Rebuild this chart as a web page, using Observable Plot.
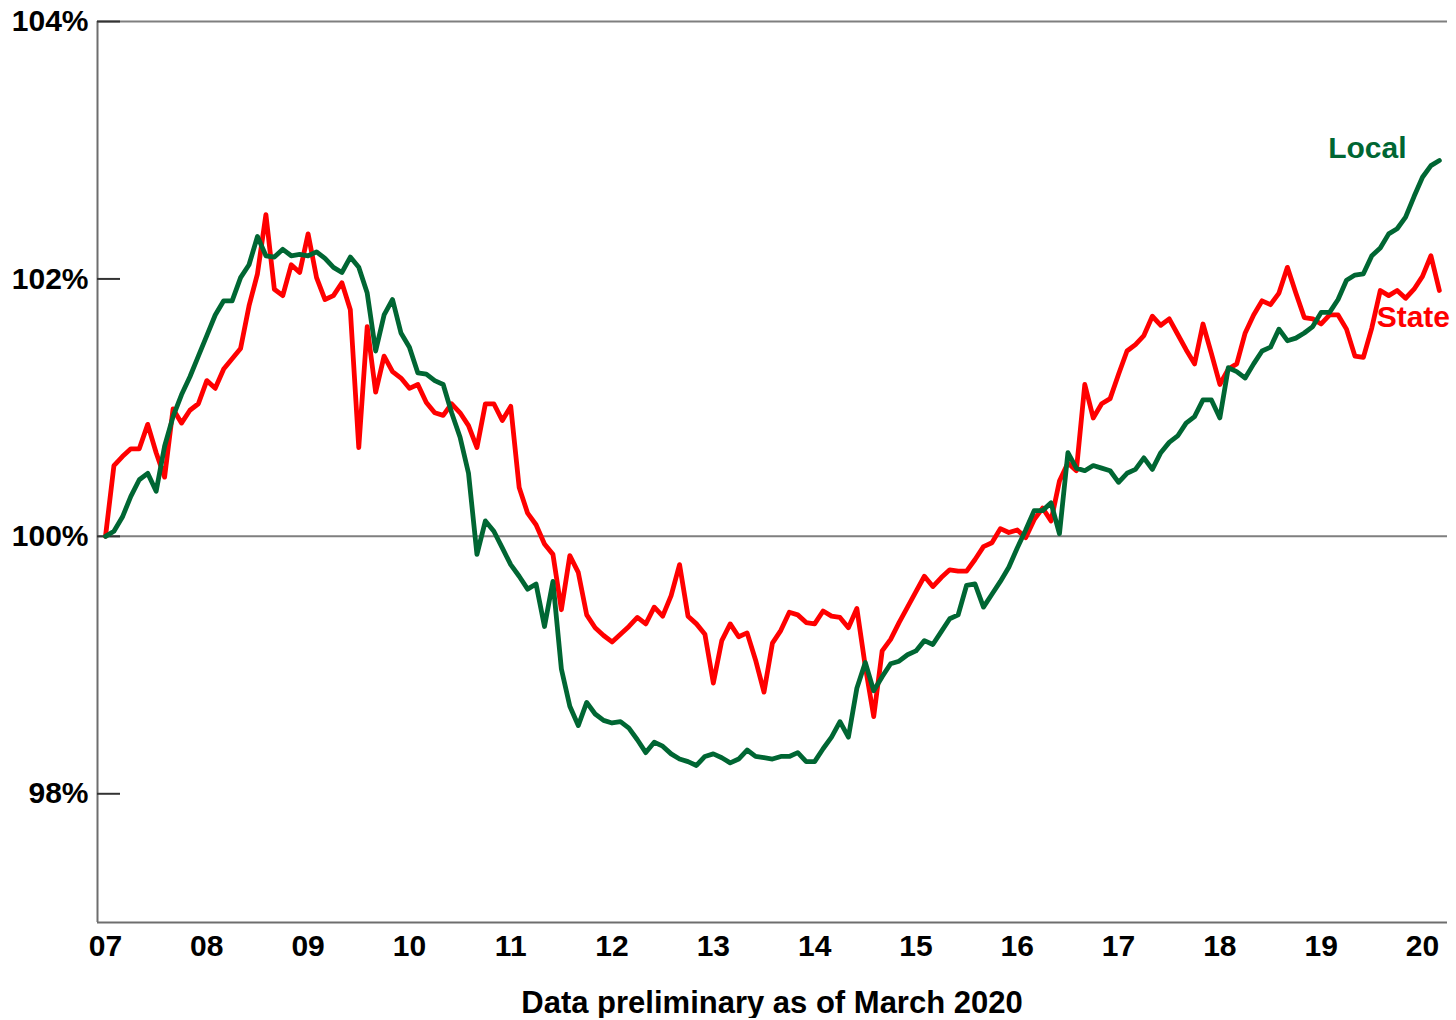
<!DOCTYPE html>
<html>
<head>
<meta charset="utf-8">
<script src="https://cdn.jsdelivr.net/npm/d3@7"></script>
<script src="https://cdn.jsdelivr.net/npm/@observablehq/plot@0.6"></script>
<style>
  html, body { margin: 0; padding: 0; background: #fff; }
  #chart { width: 1456px; }
  .caption {
    font-family: "Liberation Sans", Arial, sans-serif;
    font-weight: bold; font-size: 31px; line-height: 31px;
    text-align: center; color: #000;
    padding-left: 97px; padding-right: 9px; margin-top: 17px;
    box-sizing: border-box; width: 1456px;
  }
</style>
</head>
<body>
<div id="chart"></div>
<div class="caption" id="caption"></div>
<script>
// ---- Data (monthly, Jan 2007 – Mar 2020), index of employment, Jan 2007 = 100% ----
const startYear = 2007;
const seriesNames = ["State", "Local"];
const stateValues = [
  100.00,100.55,100.62,100.68,100.68,100.87,100.65,100.46,100.99,100.88,100.98,101.03,
  101.21,101.15,101.30,101.38,101.46,101.79,102.04,102.50,101.92,101.87,102.11,102.05,
  102.35,102.01,101.84,101.87,101.97,101.76,100.69,101.63,101.12,101.40,101.28,101.23,
  101.15,101.18,101.04,100.96,100.94,101.03,100.96,100.86,100.69,101.03,101.03,100.90,
  101.01,100.38,100.18,100.09,99.94,99.86,99.43,99.85,99.72,99.39,99.29,99.23,
  99.18,99.24,99.30,99.37,99.32,99.45,99.38,99.54,99.78,99.38,99.32,99.24,
  98.86,99.19,99.32,99.22,99.25,99.04,98.79,99.17,99.27,99.41,99.39,99.33,
  99.32,99.42,99.38,99.37,99.29,99.44,98.99,98.60,99.11,99.20,99.33,99.45,
  99.57,99.69,99.61,99.68,99.74,99.73,99.73,99.82,99.92,99.95,100.06,100.03,
  100.05,99.99,100.13,100.22,100.12,100.43,100.57,100.51,101.18,100.92,101.03,101.07,
  101.26,101.44,101.49,101.56,101.71,101.64,101.69,101.57,101.45,101.34,101.65,101.42,
  101.18,101.30,101.34,101.58,101.72,101.83,101.80,101.89,102.09,101.89,101.70,101.69,
  101.65,101.72,101.72,101.61,101.40,101.39,101.62,101.91,101.87,101.91,101.85,101.92,
  102.02,102.18,101.91
];
const localValues = [
  100.00,100.04,100.15,100.31,100.44,100.49,100.35,100.70,100.93,101.10,101.24,101.40,
  101.56,101.72,101.83,101.83,102.01,102.11,102.33,102.18,102.17,102.23,102.18,102.19,
  102.18,102.21,102.16,102.09,102.05,102.17,102.09,101.89,101.44,101.72,101.84,101.58,
  101.47,101.27,101.26,101.21,101.18,100.96,100.77,100.49,99.86,100.12,100.04,99.91,
  99.78,99.69,99.59,99.63,99.30,99.65,98.97,98.68,98.53,98.71,98.62,98.57,
  98.55,98.56,98.51,98.42,98.32,98.40,98.37,98.31,98.27,98.25,98.22,98.29,
  98.31,98.28,98.24,98.27,98.34,98.29,98.28,98.27,98.29,98.29,98.32,98.25,
  98.25,98.35,98.44,98.56,98.44,98.82,99.02,98.80,98.91,99.01,99.03,99.08,
  99.11,99.19,99.16,99.26,99.36,99.39,99.62,99.63,99.45,99.55,99.65,99.76,
  99.91,100.05,100.20,100.20,100.26,100.02,100.65,100.53,100.51,100.55,100.53,100.51,
  100.42,100.49,100.52,100.61,100.52,100.65,100.73,100.78,100.88,100.93,101.06,101.06,
  100.92,101.31,101.28,101.23,101.34,101.44,101.47,101.61,101.52,101.54,101.58,101.63,
  101.74,101.74,101.84,101.99,102.03,102.04,102.18,102.24,102.35,102.39,102.48,102.64,
  102.79,102.88,102.92
];
const yearTicks = [2007,2008,2009,2010,2011,2012,2013,2014,2015,2016,2017,2018,2019,2020];
const yTickValues = [98, 100, 102, 104];
const referenceLines = [100, 104];
const yDomain = [97, 104];
const xDomain = [2006.921, 2020.247];
const captionText = "Data preliminary as of March 2020";

// ---- Styles ----
const colors = {State: "#ff0000", Local: "#006633"};
const FONT = "'Liberation Sans', Arial, Helvetica, sans-serif";

const toRows = (name, vals) => vals.map((v, i) => ({series: name, t: startYear + i / 12, v}));
const stateRows = toRows("State", stateValues);
const localRows = toRows("Local", localValues);

const chart = Plot.plot({
  width: 1456,
  height: 970,
  marginLeft: 97,
  marginRight: 9,
  marginTop: 21,
  marginBottom: 48,
  style: {fontFamily: FONT, fontWeight: "bold", fontSize: "30px", background: "#fff", color: "#000", overflow: "visible"},
  x: {type: "linear", domain: xDomain},
  y: {type: "linear", domain: yDomain},
  marks: [
    Plot.ruleY(referenceLines, {stroke: "#7f7f7f", strokeWidth: 2}),
    Plot.ruleX([xDomain[0]], {stroke: "#6e6e6e", strokeWidth: 2}),
    Plot.ruleY([yDomain[0]], {stroke: "#6e6e6e", strokeWidth: 2}),
    Plot.axisY(yTickValues, {tickSize: -23, fill: "none", stroke: "#333", strokeWidth: 2, label: null}),
    Plot.axisY(yTickValues, {tickSize: 0, tickPadding: 9, tickFormat: d => d + "%", fontSize: 30, fontWeight: "bold", fill: "#000", label: null}),
    Plot.axisX(yearTicks, {tickSize: 0, tickPadding: 12, tickFormat: d => String(d).slice(2), fontSize: 30, fontWeight: "bold", fill: "#000", label: null}),
    Plot.line(stateRows, {x: "t", y: "v", stroke: colors.State, strokeWidth: 4.8, strokeLinejoin: "round"}),
    Plot.line(localRows, {x: "t", y: "v", stroke: colors.Local, strokeWidth: 4.8, strokeLinejoin: "round"}),
    Plot.text(localRows, Plot.selectLast({x: "t", y: "v", text: "series", fill: colors.Local, fontSize: 30, fontWeight: "bold", textAnchor: "middle", dx: -72, dy: -12})),
    Plot.text(stateRows, Plot.selectLast({x: "t", y: "v", text: "series", fill: colors.State, fontSize: 30, fontWeight: "bold", textAnchor: "middle", dx: -26, dy: 27}))
  ]
});
document.getElementById("chart").append(chart);
document.getElementById("caption").textContent = captionText;
</script>
</body>
</html>
